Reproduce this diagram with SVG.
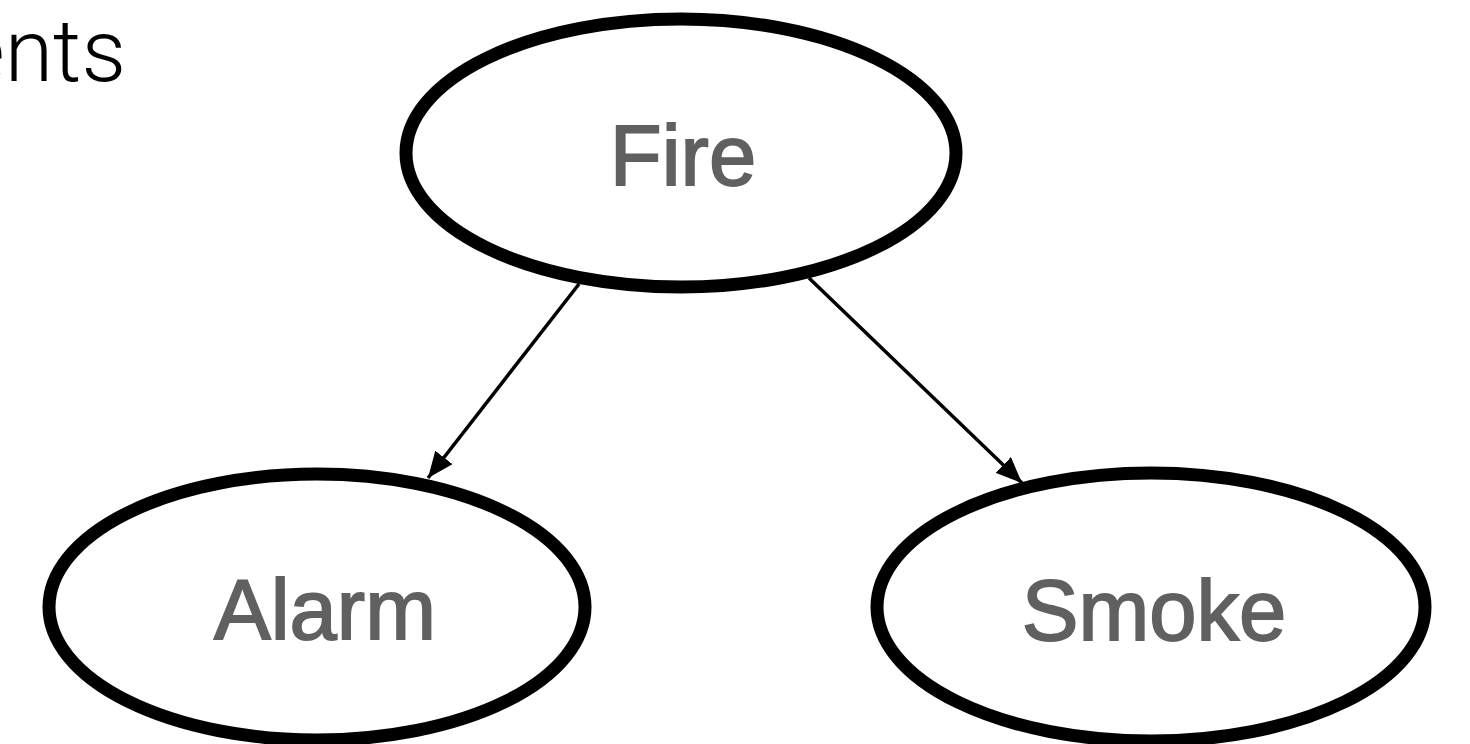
<svg xmlns="http://www.w3.org/2000/svg" width="1470" height="744" viewBox="0 0 1470 744">
<style>
.node{fill:#fff;stroke:#000;stroke-width:13}
.lbl{font-family:"Liberation Sans",Arial,sans-serif;font-size:85px;fill:#606060;stroke:#606060;stroke-width:1.8;text-anchor:middle}
.edge{stroke:#000;stroke-width:3.5;fill:none}
</style>
<defs>
<marker id="arr" markerUnits="userSpaceOnUse" viewBox="0 0 26 22" refX="26" refY="11" markerWidth="26" markerHeight="22" orient="auto">
<path d="M0,0 L26,11 L0,22 z" fill="#000"/>
</marker>
</defs>
<rect width="1470" height="744" fill="#fff"/>
<text x="126" y="81" style="font-family:Roboto,'Liberation Sans',sans-serif;font-weight:300;font-size:88px;fill:#000;text-anchor:end">ents</text>
<g id="edges">
<line class="edge" x1="579" y1="284" x2="428" y2="478" marker-end="url(#arr)"/>
<line class="edge" x1="809" y1="278" x2="1022" y2="483" marker-end="url(#arr)"/>
</g>
<g id="fire">
<ellipse class="node" cx="681" cy="153" rx="275" ry="134"/>
<text class="lbl" x="683" y="185">Fire</text>
</g>
<g id="alarm">
<ellipse class="node" cx="317" cy="607" rx="268" ry="133"/>
<text class="lbl" x="325" y="639">Alarm</text>
</g>
<g id="smoke">
<ellipse class="node" cx="1151" cy="607" rx="274" ry="134"/>
<text class="lbl" x="1154" y="640">Smoke</text>
</g>
</svg>
